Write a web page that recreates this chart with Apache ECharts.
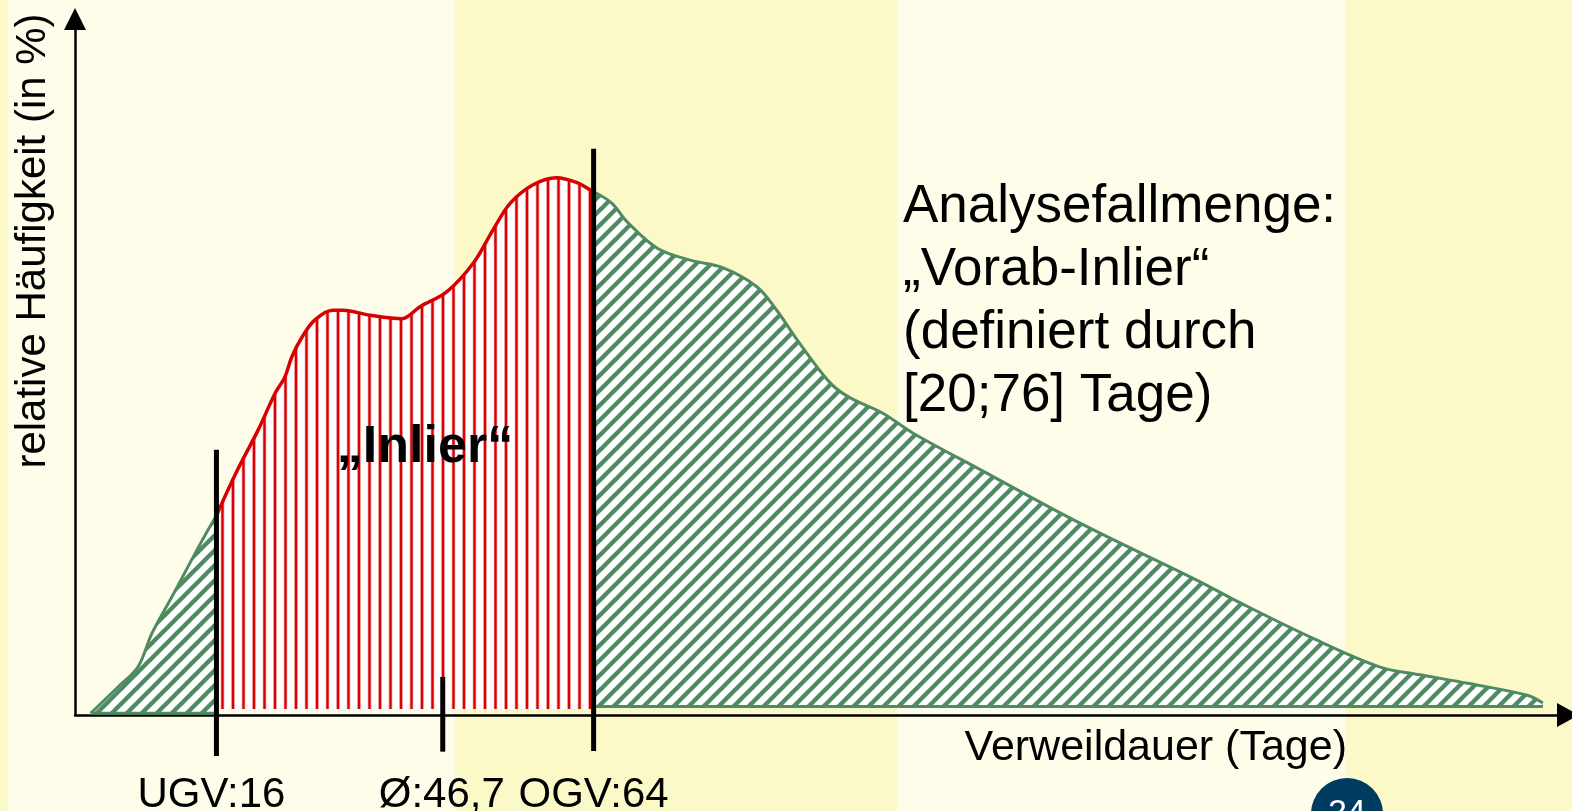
<!DOCTYPE html>
<html><head><meta charset="utf-8">
<script src="https://cdn.jsdelivr.net/npm/echarts@6/dist/echarts.min.js"></script>
<style>
html,body{margin:0;padding:0;}
#c{width:1572px;height:811px;
background:linear-gradient(to right,#fcf9c8 0px,#fcf9c8 8px,#fefdea 8px,#fefdea 455px,#fcf9c8 455px,#fcf9c8 897px,#fefdea 897px,#fefdea 1345px,#fcf9c8 1345px,#fcf9c8 1572px);}
</style>
</head><body><div id="c"></div>
<script>
// Verweildauer (Tage) and relative Häufigkeit
const days = [0, 3.5, 6, 7.8, 10.3, 14.2, 16, 18.7, 21.3, 23.5, 24.7, 25.6, 26.9, 28.5, 30.8, 32.1, 35.5, 39.6, 41.9, 45.3, 48.7, 51.2, 53.4, 56.3, 59.3, 61.9, 63.5, 64, 66.3, 68.3, 72.1, 76.3, 80.5, 84.8, 87.3, 89.9, 94.1, 96.6, 100.8, 104.6, 113.2, 125.9, 140.8, 146.3, 155.5, 164.1, 169.2, 175.2, 182.8, 184.8];
const freq = [0.25, 4.0, 6.8, 11.6, 16.7, 24.8, 28.3, 34.8, 40.4, 45.7, 47.9, 50.8, 53.6, 56.0, 57.4, 57.4, 56.7, 56.2, 57.9, 60.0, 64.1, 68.8, 72.6, 75.2, 76.2, 75.5, 74.5, 74.2, 72.6, 69.9, 66.2, 64.5, 63.4, 60.7, 57.4, 53.2, 47.1, 45.0, 42.8, 40.0, 34.8, 27.2, 19.1, 15.9, 10.9, 6.8, 5.7, 4.5, 2.8, 1.7];
const ugv = 16, ogv = 64;
const baseLeft = 0.25, baseInlier = 0.85, baseRight = 1.2;
const markerX = [16, 44.8, 64];
const markerTop = [37.6, 5.4, 80.3];
const markerBottom = [-5.8, -5.2, -5.1];
const markerLabels = ['UGV:16', 'Ø:46,7', 'OGV:64'];
const xTitle = 'Verweildauer (Tage)';
const yTitle = 'relative Häufigkeit (in %)';
const inlierText = '„Inlier“';
const noteLines = ['Analysefallmenge:', '„Vorab-Inlier“', '(definiert durch', '[20;76] Tage)'];
const pageNo = '24';

const FONT = '"Liberation Sans", Arial, sans-serif';
const GREEN = '#4f8a63', RED = '#d80000';
const labelDx = [-5, -1, 0];

function greenPattern(){
  const s = 15;
  const c = document.createElement('canvas'); c.width = s; c.height = s;
  const g = c.getContext('2d');
  g.fillStyle = '#ffffff'; g.fillRect(0,0,s,s);
  g.strokeStyle = GREEN; g.lineWidth = 4.4;
  [[-s/2,s/2,s/2,-s/2],[-1,s+1,s+1,-1],[s/2,s*1.5,s*1.5,s/2]].forEach(l=>{g.beginPath();g.moveTo(l[0],l[1]);g.lineTo(l[2],l[3]);g.stroke();});
  return c;
}
function redPattern(){
  const c = document.createElement('canvas'); c.width = 21; c.height = 10;
  const g = c.getContext('2d');
  g.fillStyle = '#ffffff'; g.fillRect(0,0,21,10);
  [2, 12.5].forEach(x=>{
    g.fillStyle = '#f09a9a'; g.fillRect(x-1.8,0,3.6,10);
    g.fillStyle = '#d80000'; g.fillRect(x-1.1,0,2.2,10);
  });
  return c;
}
const gPat = {image: greenPattern(), repeat: 'repeat'};
const rPat = {image: redPattern(), repeat: 'repeat'};

function slice(lo, hi){
  const pts = [];
  days.forEach((d,i)=>{ if(d>=lo && d<=hi) pts.push([d, freq[i]]); });
  return pts;
}
const left = slice(-1, ugv), mid = slice(ugv, ogv), right = slice(ogv, 999);

function area(pts, base, pat, color, width, z){
  return {type:'line', data:pts, smooth:0.35, symbol:'none', silent:true, z:z,
    lineStyle:{color:color, width:width, join:'round'},
    areaStyle:{color:pat, opacity:1, origin:base}};
}
function baseLine(x0, x1, y, z){
  return {type:'line', data:[[x0,y],[x1,y]], symbol:'none', silent:true, z:z,
    lineStyle:{color:GREEN, width:3}};
}

const chart = echarts.init(document.getElementById('c'), null, {renderer:'canvas'});
chart.setOption({
  animation:false,
  grid:{left:75, right:4, top:19, bottom:96, containLabel:false},
  xAxis:{type:'value', min:-2, max:188,
    axisLine:{show:true, onZero:false, symbol:['none','triangle'], symbolSize:[24,22], lineStyle:{color:'#000', width:2.5}},
    axisTick:{show:false}, axisLabel:{show:false}, splitLine:{show:false}},
  yAxis:{type:'value', min:0, max:98.7,
    axisLine:{show:true, onZero:false, symbol:['none','triangle'], symbolSize:[22,22], lineStyle:{color:'#000', width:2.5}},
    axisTick:{show:false}, axisLabel:{show:false}, splitLine:{show:false}},
  series:[
    area(left, baseLeft, gPat, GREEN, 3, 2),
    baseLine(left[0][0], ugv, baseLeft, 2),
    area(right, baseRight, gPat, GREEN, 3, 2),
    baseLine(ogv, right[right.length-1][0], baseRight, 2),
    area(mid, baseInlier, rPat, RED, 3.5, 3),
    {
      type:'custom', coordinateSystem:'cartesian2d', silent:true, clip:false, z:5,
      data: markerX.map((x,i)=>[x, markerTop[i], markerBottom[i]]),
      renderItem:(params, api)=>{
        const i = params.dataIndex;
        const p1 = api.coord([markerX[i], markerTop[i]]);
        const p2 = api.coord([markerX[i], markerBottom[i]]);
        return {type:'group', children:[
          {type:'line', shape:{x1:p1[0], y1:p1[1], x2:p2[0], y2:p2[1]}, style:{stroke:'#000', lineWidth:5}},
          {type:'text', x:p1[0] + labelDx[i], y:795, style:{text:markerLabels[i], font:'42px '+FONT, fill:'#000', align:'center', verticalAlign:'middle'}}
        ]};
      }
    }
  ],
  graphic:[
    {type:'text', z:100, x:33, y:241, rotation:Math.PI/2, style:{text:yTitle, font:'42px '+FONT, fill:'#000', align:'center', verticalAlign:'middle'}},
    {type:'text', z:100, x:1347, y:748, style:{text:xTitle, font:'43px '+FONT, fill:'#000', align:'right', verticalAlign:'middle'}},
    {type:'text', z:100, x:425, y:448, style:{text:inlierText, font:'bold 52px '+FONT, fill:'#000', align:'center', verticalAlign:'middle'}},
    ...noteLines.map((t,i)=>({type:'text', z:100, x:903, y:207 + i*63, style:{text:t, font:'53px '+FONT, fill:'#000', align:'left', verticalAlign:'middle'}})),
    {type:'circle', z:100, shape:{cx:1347, cy:814, r:36}, style:{fill:'#003b62'}},
    {type:'text', z:101, x:1347, y:814, style:{text:pageNo, font:'34px '+FONT, fill:'#ffffff', align:'center', verticalAlign:'middle'}}
  ]
});
</script>
</body></html>
